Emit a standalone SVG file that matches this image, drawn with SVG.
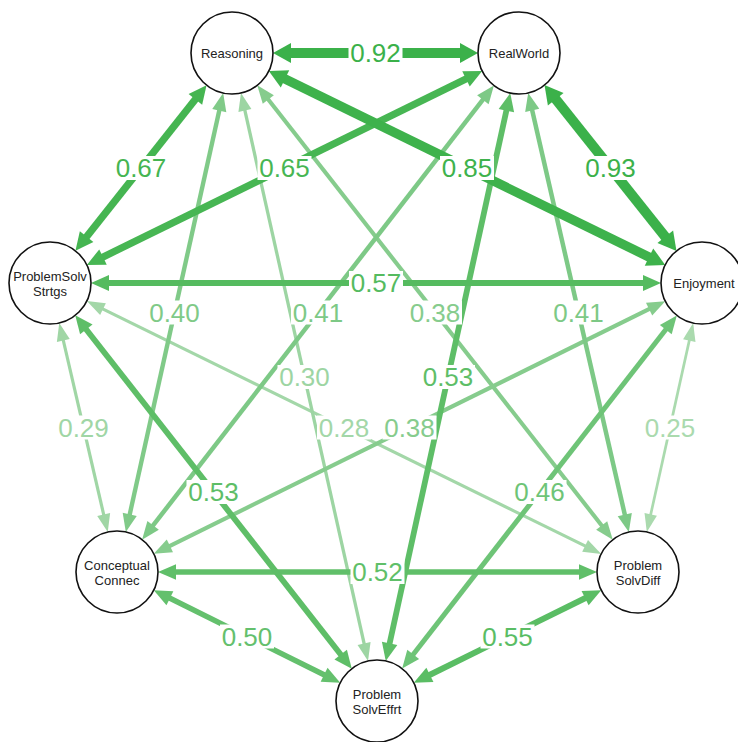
<svg xmlns="http://www.w3.org/2000/svg" width="738" height="742" viewBox="0 0 738 742">
<style>
line{fill:none;stroke-linecap:butt}
.node circle{fill:#fff;stroke:#111;stroke-width:1.6}
.node text{font-family:"Liberation Sans",Arial,sans-serif;font-size:13px;fill:#222;text-anchor:middle}
.lbl rect{fill:#fff}
.lbl text{font-family:"Liberation Sans",Arial,sans-serif;font-size:26px;text-anchor:middle}
.k93{stroke:#3BB14A;stroke-width:10;marker-start:url(#m93);marker-end:url(#m93)}
.k85{stroke:#3EB24C;stroke-width:9.3;marker-start:url(#m85);marker-end:url(#m85)}
.k67{stroke:#45B551;stroke-width:7.3;marker-start:url(#m67);marker-end:url(#m67)}
.k65{stroke:#47B653;stroke-width:7.1;marker-start:url(#m65);marker-end:url(#m65)}
.k57{stroke:#55BB5F;stroke-width:6.2;marker-start:url(#m57);marker-end:url(#m57)}
.k55{stroke:#5ABD64;stroke-width:6;marker-start:url(#m55);marker-end:url(#m55)}
.k53{stroke:#5EBE67;stroke-width:5.8;marker-start:url(#m53);marker-end:url(#m53)}
.k52{stroke:#60BF69;stroke-width:5.7;marker-start:url(#m52);marker-end:url(#m52)}
.k50{stroke:#64C06D;stroke-width:5.5;marker-start:url(#m50);marker-end:url(#m50)}
.k46{stroke:#6EC477;stroke-width:5;marker-start:url(#m46);marker-end:url(#m46)}
.k41{stroke:#7DC986;stroke-width:4.5;marker-start:url(#m41);marker-end:url(#m41)}
.k40{stroke:#80CA88;stroke-width:4.4;marker-start:url(#m40);marker-end:url(#m40)}
.k38{stroke:#86CC8D;stroke-width:4.1;marker-start:url(#m38);marker-end:url(#m38)}
.k30{stroke:#9DD5A3;stroke-width:3.3;marker-start:url(#m30);marker-end:url(#m30)}
.k29{stroke:#A0D6A5;stroke-width:3.2;marker-start:url(#m29);marker-end:url(#m29)}
.k28{stroke:#A3D7A8;stroke-width:3.1;marker-start:url(#m28);marker-end:url(#m28)}
.k25{stroke:#AADAAE;stroke-width:2.7;marker-start:url(#m25);marker-end:url(#m25)}
.t93{fill:#3BB14A}.t85{fill:#3EB24C}.t67{fill:#45B551}.t65{fill:#47B653}.t57{fill:#55BB5F}
.t55{fill:#5ABD64}.t53{fill:#5EBE67}.t52{fill:#60BF69}.t50{fill:#64C06D}.t46{fill:#6EC477}
.t41{fill:#7DC986}.t40{fill:#80CA88}.t38{fill:#86CC8D}.t30{fill:#9DD5A3}.t29{fill:#A0D6A5}
.t28{fill:#A3D7A8}.t25{fill:#AADAAE}
</style>
<defs>
<marker id="m93" markerUnits="userSpaceOnUse" orient="auto-start-reverse" refX="0" refY="10" markerWidth="20" markerHeight="22" overflow="visible"><path d="M-1,0 L17,10 L-1,20 Z" fill="#3BB14A"/></marker>
<marker id="m85" markerUnits="userSpaceOnUse" orient="auto-start-reverse" refX="0" refY="9.65" markerWidth="20" markerHeight="22" overflow="visible"><path d="M-1,0 L17,9.65 L-1,19.3 Z" fill="#3EB24C"/></marker>
<marker id="m67" markerUnits="userSpaceOnUse" orient="auto-start-reverse" refX="0" refY="8.65" markerWidth="20" markerHeight="22" overflow="visible"><path d="M-1,0 L17,8.65 L-1,17.3 Z" fill="#45B551"/></marker>
<marker id="m65" markerUnits="userSpaceOnUse" orient="auto-start-reverse" refX="0" refY="8.55" markerWidth="20" markerHeight="22" overflow="visible"><path d="M-1,0 L17,8.55 L-1,17.1 Z" fill="#47B653"/></marker>
<marker id="m57" markerUnits="userSpaceOnUse" orient="auto-start-reverse" refX="0" refY="8.1" markerWidth="20" markerHeight="22" overflow="visible"><path d="M-1,0 L17,8.1 L-1,16.2 Z" fill="#55BB5F"/></marker>
<marker id="m55" markerUnits="userSpaceOnUse" orient="auto-start-reverse" refX="0" refY="8" markerWidth="20" markerHeight="22" overflow="visible"><path d="M-1,0 L17,8 L-1,16 Z" fill="#5ABD64"/></marker>
<marker id="m53" markerUnits="userSpaceOnUse" orient="auto-start-reverse" refX="0" refY="7.9" markerWidth="20" markerHeight="22" overflow="visible"><path d="M-1,0 L17,7.9 L-1,15.8 Z" fill="#5EBE67"/></marker>
<marker id="m52" markerUnits="userSpaceOnUse" orient="auto-start-reverse" refX="0" refY="7.85" markerWidth="20" markerHeight="22" overflow="visible"><path d="M-1,0 L17,7.85 L-1,15.7 Z" fill="#60BF69"/></marker>
<marker id="m50" markerUnits="userSpaceOnUse" orient="auto-start-reverse" refX="0" refY="7.75" markerWidth="20" markerHeight="22" overflow="visible"><path d="M-1,0 L17,7.75 L-1,15.5 Z" fill="#64C06D"/></marker>
<marker id="m46" markerUnits="userSpaceOnUse" orient="auto-start-reverse" refX="0" refY="7.5" markerWidth="20" markerHeight="22" overflow="visible"><path d="M-1,0 L17,7.5 L-1,15 Z" fill="#6EC477"/></marker>
<marker id="m41" markerUnits="userSpaceOnUse" orient="auto-start-reverse" refX="0" refY="7.25" markerWidth="20" markerHeight="22" overflow="visible"><path d="M-1,0 L17,7.25 L-1,14.5 Z" fill="#7DC986"/></marker>
<marker id="m40" markerUnits="userSpaceOnUse" orient="auto-start-reverse" refX="0" refY="7.2" markerWidth="20" markerHeight="22" overflow="visible"><path d="M-1,0 L17,7.2 L-1,14.4 Z" fill="#80CA88"/></marker>
<marker id="m38" markerUnits="userSpaceOnUse" orient="auto-start-reverse" refX="0" refY="7.05" markerWidth="20" markerHeight="22" overflow="visible"><path d="M-1,0 L17,7.05 L-1,14.1 Z" fill="#86CC8D"/></marker>
<marker id="m30" markerUnits="userSpaceOnUse" orient="auto-start-reverse" refX="0" refY="6.65" markerWidth="20" markerHeight="22" overflow="visible"><path d="M-1,0 L17,6.65 L-1,13.3 Z" fill="#9DD5A3"/></marker>
<marker id="m29" markerUnits="userSpaceOnUse" orient="auto-start-reverse" refX="0" refY="6.6" markerWidth="20" markerHeight="22" overflow="visible"><path d="M-1,0 L17,6.6 L-1,13.2 Z" fill="#A0D6A5"/></marker>
<marker id="m28" markerUnits="userSpaceOnUse" orient="auto-start-reverse" refX="0" refY="6.55" markerWidth="20" markerHeight="22" overflow="visible"><path d="M-1,0 L17,6.55 L-1,13.1 Z" fill="#A3D7A8"/></marker>
<marker id="m25" markerUnits="userSpaceOnUse" orient="auto-start-reverse" refX="0" refY="6.35" markerWidth="20" markerHeight="22" overflow="visible"><path d="M-1,0 L17,6.35 L-1,12.7 Z" fill="#AADAAE"/></marker>
</defs>
<rect width="738" height="742" fill="#fff"/>
<g id="connectors">
<line class="k25" x1="689.5" y1="339.6" x2="650.5" y2="515.4"/>
<line class="k28" x1="102.1" y1="308.6" x2="586" y2="546.4"/>
<line class="k29" x1="63.1" y1="339.5" x2="103.9" y2="515.5"/>
<line class="k30" x1="244.7" y1="109.6" x2="364.3" y2="644.4"/>
<line class="k38" x1="267.7" y1="98.7" x2="602.3" y2="526.3"/>
<line class="k38" x1="650" y1="308.7" x2="169" y2="546.3"/>
<line class="k40" x1="219.5" y1="109.6" x2="129.5" y2="515.4"/>
<line class="k41" x1="483.5" y1="98.9" x2="152.5" y2="526.2"/>
<line class="k41" x1="532" y1="109.5" x2="625" y2="515.5"/>
<line class="k46" x1="666.4" y1="328.8" x2="412.6" y2="655.2"/>
<line class="k50" x1="169" y1="597.8" x2="325" y2="675.2"/>
<line class="k52" x1="175" y1="572" x2="580" y2="572"/>
<line class="k53" x1="506.6" y1="109.7" x2="389.4" y2="644.3"/>
<line class="k53" x1="85.7" y1="328.7" x2="341.3" y2="655.3"/>
<line class="k55" x1="586" y1="597.7" x2="429" y2="675.3"/>
<line class="k57" x1="108" y1="283" x2="644" y2="283"/>
<line class="k65" x1="466.9" y1="78.5" x2="102.1" y2="257.5"/>
<line class="k67" x1="196" y1="98.5" x2="86" y2="237.5"/>
<line class="k85" x1="284.1" y1="78.5" x2="649.9" y2="257.5"/>
<line class="k93" x1="555.1" y1="98.4" x2="665.9" y2="237.6"/>
<line class="k93" x1="290" y1="53" x2="461" y2="53"/>
<g class="lbl">
<rect x="348.5" y="41" width="54" height="24"/><text class="t93" x="375.5" y="62">0.92</text>
<rect x="114" y="156" width="54" height="24"/><text class="t67" x="141" y="177">0.67</text>
<rect x="257.5" y="156" width="54" height="24"/><text class="t65" x="284.5" y="177">0.65</text>
<rect x="440" y="156" width="54" height="24"/><text class="t85" x="467" y="177">0.85</text>
<rect x="583.5" y="156" width="54" height="24"/><text class="t93" x="610.5" y="177">0.93</text>
<rect x="349" y="271" width="54" height="24"/><text class="t57" x="376" y="292">0.57</text>
<rect x="147.5" y="300.5" width="54" height="24"/><text class="t40" x="174.5" y="321.5">0.40</text>
<rect x="291" y="300.5" width="54" height="24"/><text class="t41" x="318" y="321.5">0.41</text>
<rect x="277.5" y="365" width="54" height="24"/><text class="t30" x="304.5" y="386">0.30</text>
<rect x="421" y="365" width="54" height="24"/><text class="t53" x="448" y="386">0.53</text>
<rect x="408" y="300.5" width="54" height="24"/><text class="t38" x="435" y="321.5">0.38</text>
<rect x="551.5" y="300.5" width="54" height="24"/><text class="t41" x="578.5" y="321.5">0.41</text>
<rect x="56.5" y="415.5" width="54" height="24"/><text class="t29" x="83.5" y="436.5">0.29</text>
<rect x="186.5" y="480" width="54" height="24"/><text class="t53" x="213.5" y="501">0.53</text>
<rect x="317" y="415.5" width="54" height="24"/><text class="t28" x="344" y="436.5">0.28</text>
<rect x="382.5" y="415.5" width="54" height="24"/><text class="t38" x="409.5" y="436.5">0.38</text>
<rect x="643" y="415.5" width="54" height="24"/><text class="t25" x="670" y="436.5">0.25</text>
<rect x="512.5" y="480" width="54" height="24"/><text class="t46" x="539.5" y="501">0.46</text>
<rect x="350.5" y="560" width="54" height="24"/><text class="t52" x="377.5" y="581">0.52</text>
<rect x="220" y="624.5" width="54" height="24"/><text class="t50" x="247" y="645.5">0.50</text>
<rect x="480.5" y="624.5" width="54" height="24"/><text class="t55" x="507.5" y="645.5">0.55</text>
</g>
</g>
<g id="node-reasoning" class="node"><circle cx="232" cy="53" r="41"/><text x="232" y="57.7">Reasoning</text></g>
<g id="node-realworld" class="node"><circle cx="519" cy="53" r="41"/><text x="519" y="57.7">RealWorld</text></g>
<g id="node-problemsolvstrtgs" class="node"><circle cx="50" cy="283" r="41"/><text x="50" y="280.5">ProblemSolv</text><text x="50" y="295.5">Strtgs</text></g>
<g id="node-enjoyment" class="node"><circle cx="702" cy="283" r="41"/><text x="704" y="287.7">Enjoyment</text></g>
<g id="node-conceptualconnec" class="node"><circle cx="117" cy="572" r="41"/><text x="117" y="569.5">Conceptual</text><text x="117" y="584.5">Connec</text></g>
<g id="node-problemsolvdiff" class="node"><circle cx="638" cy="572" r="41"/><text x="638" y="569.5">Problem</text><text x="638" y="584.5">SolvDiff</text></g>
<g id="node-problemsolveffrt" class="node"><circle cx="377" cy="701" r="41"/><text x="377" y="698.5">Problem</text><text x="377" y="713.5">SolvEffrt</text></g>
</svg>
